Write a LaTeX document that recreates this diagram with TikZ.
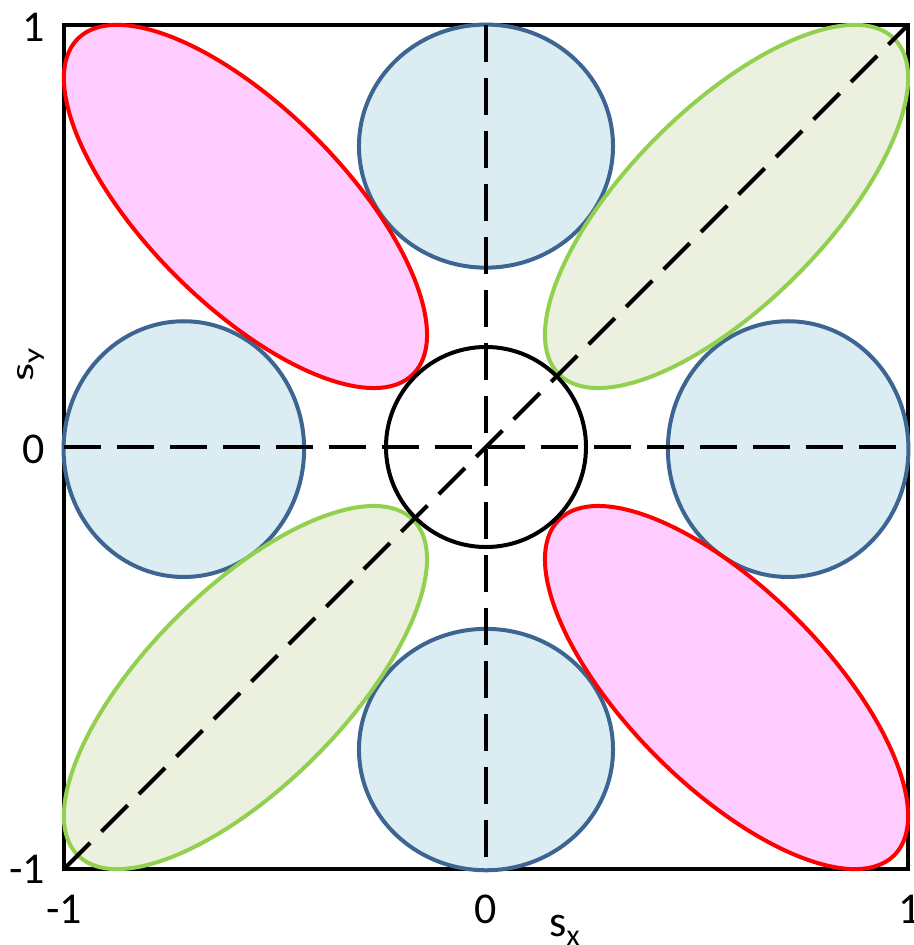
\documentclass[tikz,border=0pt]{standalone}
\usepackage{fontspec}
\setmainfont{Carlito}
\usepackage{graphicx}
\definecolor{bluefill}{HTML}{DBEDF3}
\definecolor{blueedge}{HTML}{3D6592}
\definecolor{greenfill}{HTML}{EBF1DE}
\definecolor{greenedge}{HTML}{92D050}
\definecolor{pinkfill}{HTML}{FFCCFF}
\definecolor{rededge}{HTML}{FF0000}
\tikzset{
  bluecirc/.style={draw=blueedge, fill=bluefill, line width=4pt},
  greenell/.style={draw=greenedge, fill=greenfill, line width=4pt},
  redell/.style={draw=rededge, fill=pinkfill, line width=4pt},
  axisline/.style={line width=4pt, dash pattern=on 37pt off 16pt},
  framebox/.style={line width=4.5pt},
  ticklab/.style={inner sep=0pt, font=\fontsize{44}{44}\selectfont},
}
\begin{document}
\begin{tikzpicture}[x=422pt,y=422pt]
\useasboundingbox (-486pt,447pt) rectangle (427pt,-498pt);
% frame
\coordinate (bl) at (-1,-1);
\coordinate (tr) at (1,1);
\coordinate (l) at (-1,0);
\coordinate (r) at (1,0);
\coordinate (t) at (0,1);
\coordinate (b) at (0,-1);
\draw[framebox] (bl) rectangle (tr);
% blue circles
\draw[bluecirc] (-0.716,-0.005) ellipse [x radius=0.285, y radius=0.303];
\draw[bluecirc] (0.716,-0.005) ellipse [x radius=0.285, y radius=0.303];
\draw[bluecirc] (0,0.713) ellipse [x radius=0.301, y radius=0.288];
\draw[bluecirc] (0,-0.717) ellipse [x radius=0.301, y radius=0.286];
% ellipses
\draw[redell, shift={(-0.57,0.57)}, rotate=-45] (0,0) ellipse [x radius=0.562, y radius=0.233];
\draw[redell, shift={(0.57,-0.57)}, rotate=-45] (0,0) ellipse [x radius=0.562, y radius=0.233];
\draw[greenell, shift={(0.57,0.57)}, rotate=45] (0,0) ellipse [x radius=0.562, y radius=0.233];
\draw[greenell, shift={(-0.57,-0.57)}, rotate=45] (0,0) ellipse [x radius=0.562, y radius=0.233];
% centre circle
\draw[line width=4pt] (0,0) circle [radius=0.237];
% axes
\draw[axisline] (l) -- (r);
\draw[axisline] (t) -- (b);
\draw[axisline] (bl) -- (tr);
% labels
\node[ticklab, anchor=east] (y1) at (-1.045,0.995) {1};
\node[ticklab, anchor=east] (y0) at (-1.045,-0.005) {0};
\node[ticklab, anchor=east] (ym1) at (-1.045,-1.0) {-1};
\node[ticklab] (xm1) at (-1.0,-1.095) {-1};
\node[ticklab] (x0) at (0,-1.095) {0};
\node[ticklab] (x1) at (1.005,-1.095) {1};
\node[ticklab, anchor=base west] (sx) at (0.150,-1.160) {s\lower9pt\hbox{\fontsize{30}{30}\selectfont x}};
\node[ticklab, anchor=base west, rotate=90] (sy) at (-1.073,0.155) {\scalebox{1.4}[1]{\fontsize{33}{33}\selectfont s\lower7pt\hbox{\fontsize{24}{24}\selectfont y}}};
\end{tikzpicture}
\end{document}
